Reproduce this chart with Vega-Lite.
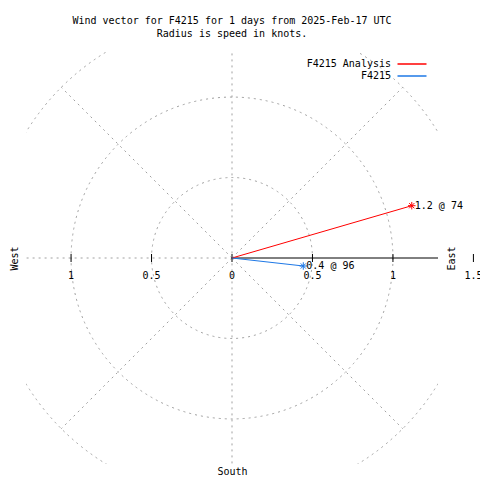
{
  "$schema": "https://vega.github.io/schema/vega-lite/v6.json",
  "autosize": "none",
  "width": 412,
  "height": 412,
  "padding": {"left": 26, "top": 52, "right": 42, "bottom": 16},
  "background": "white",
  "view": {"stroke": null, "fill": null},
  "title": {
    "text": ["Wind vector for F4215 for 1 days from 2025-Feb-17 UTC", "Radius is speed in knots."],
    "font": "DejaVu Sans Mono",
    "fontSize": 10,
    "fontWeight": "normal",
    "color": "black",
    "anchor": "middle",
    "lineHeight": 13,
    "offset": 13
  },
  "datasets": {
    "circles": [{"r": 0.5, "cx": 0, "cy": 0}, {"r": 1.0, "cx": 0, "cy": 0}, {"r": 1.5, "cx": 0, "cy": 0}],
    "spokes": [
      {"x": 0, "y": 0, "x2": 1.0607, "y2": 1.0607},
      {"x": 0, "y": 0, "x2": -1.0607, "y2": 1.0607},
      {"x": 0, "y": 0, "x2": 1.0607, "y2": -1.0607},
      {"x": 0, "y": 0, "x2": -1.0607, "y2": -1.0607},
      {"x": 0, "y": -1.5, "x2": 0, "y2": 1.5},
      {"x": -1.5, "y": 0, "x2": 0, "y2": 0}
    ],
    "eastaxis": [{"x": 0, "y": 0, "x2": 1.28, "y2": 0}],
    "ticks": [
      {"v": -1, "y": 0, "label": "1"},
      {"v": -0.5, "y": 0, "label": "0.5"},
      {"v": 0, "y": 0, "label": "0"},
      {"v": 0.5, "y": 0, "label": "0.5"},
      {"v": 1, "y": 0, "label": "1"},
      {"v": 1.5, "y": 0, "label": "1.5"}
    ],
    "vectors": [
      {"series": "F4215 Analysis", "x0": 0, "y0": 0, "u": 1.117, "v": 0.325, "label": "1.2 @ 74"},
      {"series": "F4215", "x0": 0, "y0": 0, "u": 0.443, "v": -0.0497, "label": "0.4 @ 96"}
    ]
  },
  "resolve": {"axis": {"x": "independent", "y": "independent"}},
  "layer": [
    {
      "data": {"name": "circles"},
      "mark": {"type": "point", "shape": "circle", "filled": false, "stroke": "#a0a0a0", "strokeWidth": 1, "strokeDash": [2, 4], "opacity": 1, "clip": true},
      "encoding": {
        "x": {"field": "cx", "type": "quantitative", "scale": {"domain": [-1.28, 1.28], "nice": false, "zero": false},
          "axis": {"title": "South", "domain": false, "ticks": false, "labels": false, "grid": false, "titleFont": "DejaVu Sans Mono", "titleFontSize": 10, "titleFontWeight": "normal", "titleColor": "black", "titlePadding": 2}},
        "y": {"field": "cy", "type": "quantitative", "scale": {"domain": [-1.28, 1.28], "nice": false, "zero": false},
          "axis": {"title": "West", "orient": "left", "domain": false, "ticks": false, "labels": false, "grid": false, "titleFont": "DejaVu Sans Mono", "titleFontSize": 10, "titleFontWeight": "normal", "titleColor": "black", "titlePadding": 7}},
        "size": {"field": "r", "type": "quantitative", "scale": {"type": "pow", "exponent": 2, "domain": [0, 1.5], "range": [0, 233096]}, "legend": null}
      }
    },
    {
      "data": {"name": "spokes"},
      "mark": {"type": "rule", "stroke": "#a0a0a0", "strokeWidth": 1, "strokeDash": [2, 4], "clip": true},
      "encoding": {
        "x": {"field": "x", "type": "quantitative", "axis": null},
        "y": {"field": "y", "type": "quantitative", "axis": {"title": "East", "orient": "right", "titleAngle": -90, "domain": false, "ticks": false, "labels": false, "grid": false, "titleFont": "DejaVu Sans Mono", "titleFontSize": 10, "titleFontWeight": "normal", "titleColor": "black", "titlePadding": 18}},
        "x2": {"field": "x2"},
        "y2": {"field": "y2"}
      }
    },
    {
      "data": {"name": "eastaxis"},
      "mark": {"type": "rule", "stroke": "black", "strokeWidth": 1},
      "encoding": {
        "x": {"field": "x", "type": "quantitative", "axis": null},
        "y": {"field": "y", "type": "quantitative", "axis": null},
        "x2": {"field": "x2"},
        "y2": {"field": "y2"}
      }
    },
    {
      "data": {"name": "ticks"},
      "mark": {"type": "tick", "orient": "vertical", "size": 8, "thickness": 1, "color": "black", "opacity": 1},
      "encoding": {
        "x": {"field": "v", "type": "quantitative", "axis": null},
        "y": {"field": "y", "type": "quantitative", "axis": null}
      }
    },
    {
      "data": {"name": "ticks"},
      "mark": {"type": "text", "dy": 18, "baseline": "middle", "align": "center", "font": "DejaVu Sans Mono", "fontSize": 10, "color": "black"},
      "encoding": {
        "x": {"field": "v", "type": "quantitative", "axis": null},
        "y": {"field": "y", "type": "quantitative", "axis": null},
        "text": {"field": "label"}
      }
    },
    {
      "data": {"name": "vectors"},
      "mark": {"type": "rule", "strokeWidth": 1},
      "encoding": {
        "x": {"field": "x0", "type": "quantitative", "axis": null},
        "y": {"field": "y0", "type": "quantitative", "axis": null},
        "x2": {"field": "u"},
        "y2": {"field": "v"},
        "color": {"field": "series", "type": "nominal",
          "scale": {"domain": ["F4215 Analysis", "F4215"], "range": ["#ff0000", "#1e78e6"]},
          "legend": {"orient": "none", "legendX": 380, "legendY": 6, "title": null, "symbolType": "M-2.9,0L2.9,0", "symbolSize": 100, "symbolStrokeWidth": 1.5, "symbolFillColor": "transparent", "labelAlign": "right", "labelOffset": -27, "labelFont": "DejaVu Sans Mono", "labelFontSize": 10, "labelColor": "black", "padding": 0, "rowPadding": 1}}
      }
    },
    {
      "data": {"name": "vectors"},
      "mark": {"type": "point", "shape": "M-1,0L1,0M0,-1L0,1M-0.7,-0.7L0.7,0.7M-0.7,0.7L0.7,-0.7", "size": 56, "filled": false, "strokeWidth": 1, "opacity": 1},
      "encoding": {
        "x": {"field": "u", "type": "quantitative", "axis": null},
        "y": {"field": "v", "type": "quantitative", "axis": null},
        "color": {"field": "series", "type": "nominal",
          "scale": {"domain": ["F4215 Analysis", "F4215"], "range": ["#ff0000", "#1e78e6"]},
          "legend": {"orient": "none", "legendX": 380, "legendY": 6, "title": null, "symbolType": "M-2.9,0L2.9,0", "symbolSize": 100, "symbolStrokeWidth": 1.5, "symbolFillColor": "transparent", "labelAlign": "right", "labelOffset": -27, "labelFont": "DejaVu Sans Mono", "labelFontSize": 10, "labelColor": "black", "padding": 0, "rowPadding": 1}}
      }
    },
    {
      "data": {"name": "vectors"},
      "mark": {"type": "text", "align": "left", "baseline": "middle", "dx": 3, "font": "DejaVu Sans Mono", "fontSize": 10, "color": "black"},
      "encoding": {
        "x": {"field": "u", "type": "quantitative", "axis": null},
        "y": {"field": "v", "type": "quantitative", "axis": null},
        "text": {"field": "label"}
      }
    }
  ]
}
